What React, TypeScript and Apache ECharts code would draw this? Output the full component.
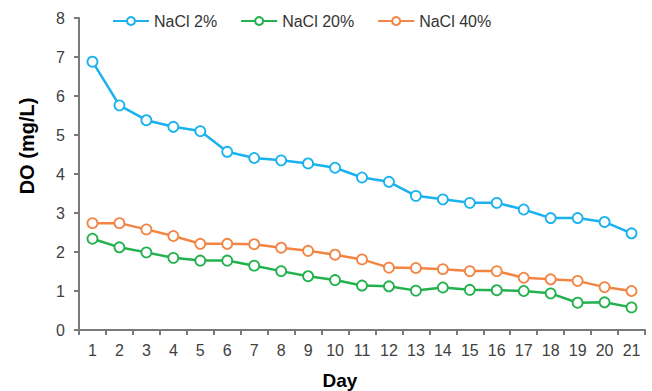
import React, { useEffect, useRef } from "react";
import * as echarts from "echarts";

const days = ["1","2","3","4","5","6","7","8","9","10","11","12","13","14","15","16","17","18","19","20","21"];
const nacl2 = [6.88, 5.76, 5.38, 5.21, 5.10, 4.57, 4.41, 4.35, 4.27, 4.16, 3.91, 3.80, 3.44, 3.35, 3.26, 3.26, 3.09, 2.87, 2.87, 2.77, 2.48];
const nacl20 = [2.34, 2.12, 1.99, 1.85, 1.78, 1.78, 1.65, 1.51, 1.38, 1.28, 1.14, 1.12, 1.01, 1.09, 1.03, 1.02, 1.0, 0.94, 0.70, 0.71, 0.58];
const nacl40 = [2.74, 2.74, 2.58, 2.41, 2.21, 2.21, 2.20, 2.11, 2.03, 1.93, 1.81, 1.60, 1.59, 1.56, 1.51, 1.51, 1.34, 1.30, 1.26, 1.10, 1.00];
const seriesNames = ["NaCl 2%", "NaCl 20%", "NaCl 40%"];
const colors = ["#1AB2EE", "#22B14C", "#F28544"];

const FONT = "'Liberation Sans', Arial, sans-serif";

export default function App() {
  const ref = useRef<HTMLDivElement>(null);
  useEffect(() => {
    if (!ref.current) return;
    const chart = echarts.init(ref.current, undefined, { renderer: "svg" });
    const mk = (name: string, data: number[], color: string) => ({
      name,
      type: "line",
      data,
      symbol: "circle",
      symbolSize: 10,
      lineStyle: { color, width: 2.5 },
      itemStyle: { color: "#ffffff", borderColor: color, borderWidth: 1.8 },
      emphasis: { disabled: true },
    });
    chart.setOption({
      animation: false,
      textStyle: { fontFamily: FONT },
      grid: { left: 79, right: 7, top: 18, bottom: 61, containLabel: false },
      legend: {
        left: 107,
        top: 8,
        itemWidth: 36,
        itemHeight: 10,
        itemGap: 23,
        textStyle: { fontSize: 16, color: "#333333", fontFamily: FONT },
        data: seriesNames,
      },
      xAxis: {
        type: "category",
        data: days,
        boundaryGap: true,
        axisLine: { lineStyle: { color: "#7a7a7a", width: 2 } },
        axisTick: { show: true, length: 5, alignWithLabel: false, lineStyle: { color: "#7a7a7a", width: 2 } },
        axisLabel: { fontSize: 16, color: "#404040", margin: 12, interval: 0, fontFamily: FONT },
        splitLine: { show: false },
      },
      yAxis: {
        type: "value",
        min: 0,
        max: 8,
        interval: 1,
        axisLine: { show: true, lineStyle: { color: "#7a7a7a", width: 2 } },
        axisTick: { show: true, length: 5, lineStyle: { color: "#7a7a7a", width: 2 } },
        axisLabel: { fontSize: 16, color: "#404040", margin: 14, fontFamily: FONT },
        splitLine: { show: false },
      },
      graphic: [
        {
          type: "text",
          x: 27,
          y: 146,
          rotation: Math.PI / 2,
          style: {
            text: "DO (mg/L)",
            fontSize: 20,
            fontWeight: "bold",
            fill: "#000000",
            fontFamily: FONT,
            align: "center",
            verticalAlign: "middle",
          },
        },
        {
          type: "text",
          x: 340,
          y: 371,
          style: {
            text: "Day",
            fontSize: 19,
            fontWeight: "bold",
            fill: "#000000",
            fontFamily: FONT,
            align: "center",
            verticalAlign: "top",
          },
        },
      ],
      series: [
        mk(seriesNames[0], nacl2, colors[0]),
        mk(seriesNames[1], nacl20, colors[1]),
        mk(seriesNames[2], nacl40, colors[2]),
      ],
    });
    return () => chart.dispose();
  }, []);
  return <div ref={ref} style={{ width: 652, height: 391, position: "absolute", left: 0, top: 0, background: "#ffffff" }} />;
}
